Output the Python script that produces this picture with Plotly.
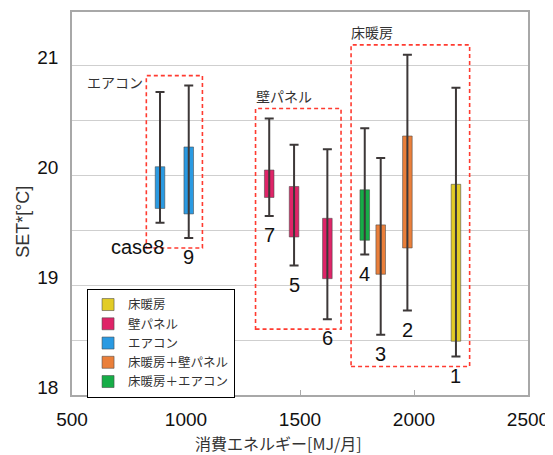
import plotly.graph_objects as go

# ---- data ----
case_labels = ["1", "2", "3", "4", "5", "6", "7", "case8", "9"]
energy = [2184, 1971, 1854, 1784, 1474, 1620, 1365, 886, 1012]       # MJ/month
whisker_hi = [20.80, 21.10, 20.16, 20.43, 20.28, 20.24, 20.52, 20.76, 20.82]
box_hi = [19.92, 20.36, 19.55, 19.87, 19.90, 19.61, 20.05, 20.08, 20.26]
box_lo = [18.49, 19.34, 19.10, 19.41, 19.44, 19.06, 19.80, 19.70, 19.65]
whisker_lo = [18.35, 18.77, 18.55, 19.28, 19.18, 18.69, 19.63, 19.57, 19.43]
system = ["床暖房", "床暖房＋壁パネル", "床暖房＋壁パネル", "床暖房＋エアコン",
          "壁パネル", "壁パネル", "壁パネル", "エアコン", "エアコン"]

legend_order = ["床暖房", "壁パネル", "エアコン", "床暖房＋壁パネル", "床暖房＋エアコン"]
colors = {"床暖房": "#E2CC26", "壁パネル": "#DF2468", "エアコン": "#2A9AE2",
          "床暖房＋壁パネル": "#EA7F3A", "床暖房＋エアコン": "#16AD47"}

groups = [("エアコン", [7, 8]), ("壁パネル", [6, 4, 5]), ("床暖房", [3, 2, 1, 0])]

yticks = [18, 18.5, 19, 19.5, 20, 20.5, 21]
yticktext = ["18", "", "19", "", "20", "", "21"]
xticks = [500, 1000, 1500, 2000, 2500]

JP = "Noto Sans CJK JP"
LAT = "Liberation Sans, Arial"

fig = go.Figure()

# whiskers (drawn first, below the boxes)
mid = [(a + b) / 2 for a, b in zip(whisker_lo, whisker_hi)]
fig.add_trace(go.Scatter(
    x=energy, y=mid, mode="markers", marker=dict(size=1, opacity=0),
    error_y=dict(type="data", symmetric=False,
                 array=[h - m for h, m in zip(whisker_hi, mid)],
                 arrayminus=[m - l for m, l in zip(mid, whisker_lo)],
                 color="#3d3838", thickness=2, width=4.5),
    showlegend=False, hoverinfo="skip"))

# boxes
for s in legend_order:
    idx = [i for i, v in enumerate(system) if v == s]
    fig.add_trace(go.Bar(
        name=s,
        x=[energy[i] for i in idx],
        y=[box_hi[i] - box_lo[i] for i in idx],
        base=[box_lo[i] for i in idx],
        width=42,
        marker=dict(color=colors[s], line=dict(color="rgba(70,70,70,0.55)", width=1)),
    ))

# case number labels
for i, t in enumerate(case_labels):
    if t == "case8":
        fig.add_annotation(x=energy[i], y=whisker_lo[i], text=t, showarrow=False,
                           xanchor="right", yanchor="middle", xshift=6, yshift=-24,
                           font=dict(family=LAT, size=20, color="#111"))
    else:
        fig.add_annotation(x=energy[i], y=whisker_lo[i], text=t, showarrow=False,
                           xanchor="center", yanchor="middle", yshift=-19,
                           font=dict(family=LAT, size=20, color="#111"))

# dashed group frames derived from the data
padx, pady = 60, 0.09
for name, idx in groups:
    x0 = min(energy[i] for i in idx) - padx
    x1 = max(energy[i] for i in idx) + padx
    y0 = min(whisker_lo[i] for i in idx) - pady
    y1 = max(whisker_hi[i] for i in idx) + pady
    fig.add_shape(type="rect", x0=x0, x1=x1, y0=y0, y1=y1, xref="x", yref="y",
                  line=dict(color="#FF3B30", width=1.6, dash="4px,3px"),
                  fillcolor="rgba(0,0,0,0)", layer="above")
    if name == "エアコン":
        fig.add_annotation(x=x0, y=y1, text=name, showarrow=False, xanchor="right",
                           yanchor="middle", xshift=-1, yshift=-6,
                           font=dict(family=JP, size=14, color="#333"))
    else:
        fig.add_annotation(x=x0, y=y1, text=name, showarrow=False, xanchor="left",
                           yanchor="bottom", xshift=-2, yshift=1,
                           font=dict(family=JP, size=14, color="#333"))

# axis titles
fig.add_annotation(xref="paper", yref="paper", x=0.452, y=-0.126, text="消費エネルギー[MJ/月]",
                   showarrow=False, xanchor="center", yanchor="middle",
                   font=dict(family=JP, size=16, color="#333"))
fig.add_annotation(xref="paper", yref="paper", x=-0.1075, y=0.452, text="SET*[°C]",
                   showarrow=False, xanchor="center", yanchor="middle", textangle=-90,
                   font=dict(family=LAT, size=18, color="#333"))

# page body has an 8px margin, so the figure is 8px smaller and margins offset
fig.update_layout(
    width=545, height=447,
    margin=dict(l=64, r=25, t=2, b=60),
    paper_bgcolor="white", plot_bgcolor="white",
    barmode="overlay",
    showlegend=True,
    legend=dict(x=0.033, y=0.277, xanchor="left", yanchor="top",
                bgcolor="white", bordercolor="black", borderwidth=1,
                font=dict(family=JP, size=12.5, color="#333"),
                traceorder="normal", itemwidth=30),
    xaxis=dict(range=[500, 2500], tickvals=xticks, showgrid=False, zeroline=False,
               ticks="inside", ticklen=5, tickcolor="#aaa",
               showline=True, linecolor="#a8a8a8", linewidth=1.5, mirror=True,
               tickfont=dict(family=LAT, size=19, color="#111"),
               ticklabelstandoff=6),
    yaxis=dict(range=[18, 21.49], tickvals=yticks, ticktext=yticktext,
               showgrid=True, gridcolor="#cfcfcf", gridwidth=1, zeroline=False,
               ticks="", showline=True, linecolor="#a8a8a8", linewidth=1.5, mirror=True,
               tickfont=dict(family=LAT, size=19, color="#111"),
               ticklabelstandoff=8, ticklabelshift=-8),
)

fig.write_html("out.html")
